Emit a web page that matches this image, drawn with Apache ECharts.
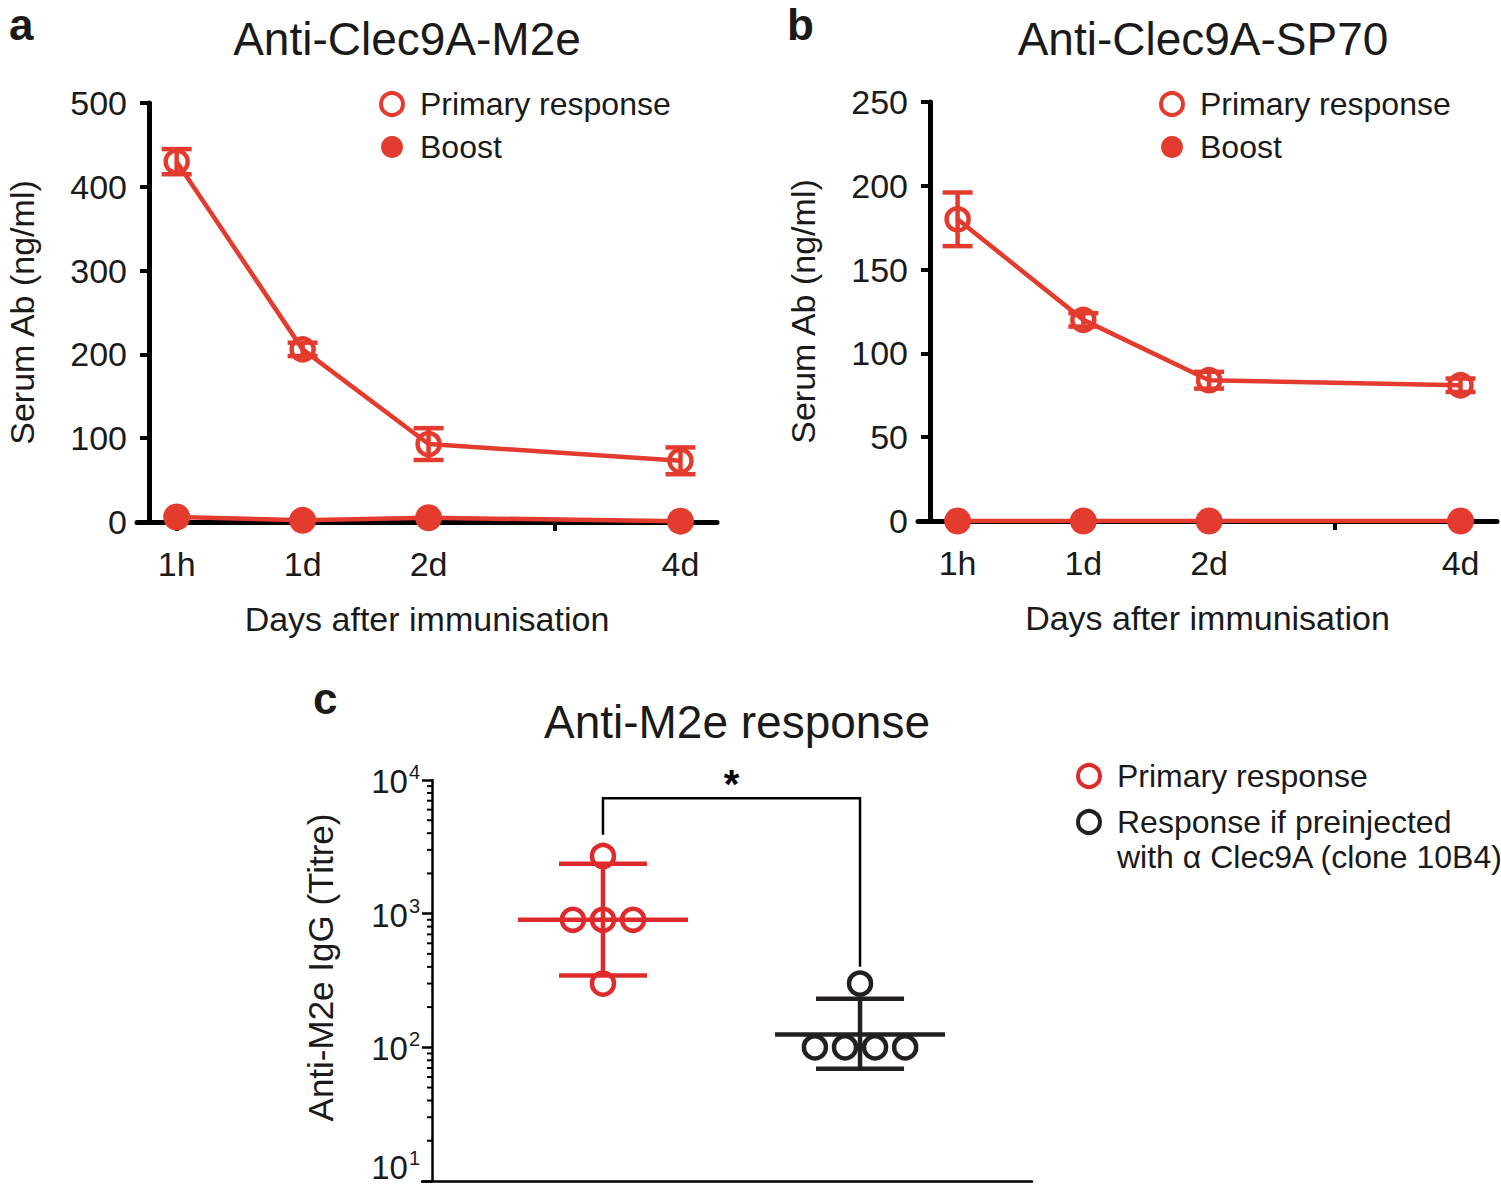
<!DOCTYPE html>
<html><head><meta charset="utf-8">
<script src="https://cdn.jsdelivr.net/npm/echarts@6/dist/echarts.min.js"></script>
<style>html,body{margin:0;padding:0;background:#fff}#c{width:1501px;height:1186px}</style>
</head><body><div id="c"></div>
<script>
// ---- data ----
const timeLabels = ['1h', '1d', '2d', '', '4d'];
const timePos = [0, 1, 2, 4];
const m2ePrimary = [430, 206, 93, 73];
const m2ePrimarySD = [15, 8, 19, 16];
const m2eBoost = [6, 2, 5, 1];
const sp70Primary = [180, 120, 84, 81];
const sp70PrimarySD = [16, 4, 5, 4];
const sp70Boost = [0, 0, 0, 0];
const titreGroups = ['Primary response', 'Response if preinjected\nwith \u03b1 Clec9A (clone 10B4)'];
const titrePrimary = [2700, 900, 900, 900, 300];
const titrePre = [300, 100, 100, 100, 100];
const titreMean = [900, 125];
const titreLow = [345, 69];
const titreHigh = [2360, 231];
const sigBracket = { label: '*', bar: 7300, leftEnd: 3900, rightEnd: 400 };

// ---- styles ----
const RED = '#e33b2e';
const RED_C = '#df2a2c';
const BLACK = '#231f20';
const TXT = '#1a1a1a';
const FONT = '"Liberation Sans", Arial, Helvetica, sans-serif';

function errRender(capHalf, color, width) {
  return function (params, api) {
    const x = api.value(0), m = api.value(1), s = api.value(2);
    const t = api.coord([x, m + s]), b = api.coord([x, m - s]);
    const st = { stroke: color, lineWidth: width };
    return { type: 'group', children: [
      { type: 'line', shape: { x1: t[0], y1: t[1], x2: b[0], y2: b[1] }, style: st },
      { type: 'line', shape: { x1: t[0] - capHalf, y1: t[1], x2: t[0] + capHalf, y2: t[1] }, style: st },
      { type: 'line', shape: { x1: b[0] - capHalf, y1: b[1], x2: b[0] + capHalf, y2: b[1] }, style: st }
    ]};
  };
}
function summaryRender(colors) {
  return function (params, api) {
    const g = api.value(0), m = api.value(1), lo = api.value(2), hi = api.value(3);
    const c = colors[params.dataIndex];
    const pm = api.coord([g, m]), pl = api.coord([g, lo]), ph = api.coord([g, hi]);
    const st = { stroke: c, lineWidth: 4.5 };
    return { type: 'group', children: [
      { type: 'line', shape: { x1: pm[0] - 85, y1: pm[1], x2: pm[0] + 85, y2: pm[1] }, style: st },
      { type: 'line', shape: { x1: ph[0], y1: ph[1], x2: pl[0], y2: pl[1] }, style: st },
      { type: 'line', shape: { x1: ph[0] - 44, y1: ph[1], x2: ph[0] + 44, y2: ph[1] }, style: st },
      { type: 'line', shape: { x1: pl[0] - 44, y1: pl[1], x2: pl[0] + 44, y2: pl[1] }, style: st }
    ]};
  };
}
function swarm(vals, group, step) {
  const counts = {}, seen = {};
  vals.forEach(v => counts[v] = (counts[v] || 0) + 1);
  return vals.map(v => {
    const n = counts[v];
    const i = seen[v] = (seen[v] || 0) + 1;
    return [group + (i - 1 - (n - 1) / 2) * step, v];
  });
}

const chart = echarts.init(document.getElementById('c'), null, { renderer: 'svg' });

const AXW = 5;
const timeAxis = (gi) => ({
  type: 'value', gridIndex: gi, min: -0.315, max: 4.29,
  name: 'Days after immunisation', nameLocation: 'middle', nameGap: 80,
  nameTextStyle: { fontSize: 34, color: TXT, fontFamily: FONT },
  axisLine: { lineStyle: { color: '#000', width: AXW } },
  axisTick: { customValues: timeLabels.map((_, i) => i), length: 9, lineStyle: { color: '#000', width: 4 } },
  axisLabel: { customValues: timeLabels.map((_, i) => i).filter(i => timeLabels[i] !== ''),
    formatter: v => timeLabels[v], fontSize: 34, color: TXT, fontFamily: FONT, margin: 25 },
  splitLine: { show: false }
});
const serumAxis = (gi, max, interval) => ({
  type: 'value', gridIndex: gi, min: 0, max: max, interval: interval, offset: -12,
  name: 'Serum Ab (ng/ml)', nameLocation: 'middle', nameGap: 110,
  nameTextStyle: { fontSize: 34, color: TXT, fontFamily: FONT },
  axisLine: { show: true, onZero: false, lineStyle: { color: '#000', width: AXW } },
  axisTick: { show: true, length: 9, lineStyle: { color: '#000', width: 4 } },
  axisLabel: { fontSize: 34, color: TXT, fontFamily: FONT, margin: 22 },
  splitLine: { show: false }
});

const primaryStyle = { color: 'rgba(255,255,255,0)', borderColor: RED, borderWidth: 4.5 };
const boostStyle = { color: RED, borderWidth: 0 };

const legendAB = (left) => ({
  left: left, top: 88, orient: 'vertical', padding: 0, itemWidth: 22, itemHeight: 22, itemGap: 11,
  textStyle: { fontSize: 32, lineHeight: 32, color: TXT, fontFamily: FONT, padding: [0, 0, 0, 12] },
  data: [
    { name: 'Primary response', icon: 'circle', itemStyle: { color: '#fff', borderColor: RED, borderWidth: 4 } },
    { name: 'Boost', icon: 'circle', itemStyle: { color: RED, borderWidth: 0 } }
  ]
});

const logRich = {
  b: { fontSize: 33, color: TXT, fontFamily: FONT, padding: [3, 0, 0, 0] },
  bm: { fontSize: 33, color: TXT, fontFamily: FONT, padding: [3, 0, 30, 0] },
  s: { fontSize: 20, color: TXT, fontFamily: FONT, verticalAlign: 'top', padding: [0, 0, 0, 1] }
};

const option = {
  animation: false,
  backgroundColor: '#fff',
  textStyle: { fontFamily: FONT },
  title: [
    { text: 'a', left: 4, top: -3, textStyle: { fontSize: 44, fontWeight: 'bold', color: TXT, fontFamily: FONT } },
    { text: 'b', left: 782, top: -3, textStyle: { fontSize: 44, fontWeight: 'bold', color: TXT, fontFamily: FONT } },
    { text: 'c', left: 308, top: 671, textStyle: { fontSize: 44, fontWeight: 'bold', color: TXT, fontFamily: FONT } },
    { text: 'Anti-Clec9A-M2e', left: 402, textAlign: 'center', top: 11, textStyle: { fontSize: 46, fontWeight: 'normal', color: TXT, fontFamily: FONT } },
    { text: 'Anti-Clec9A-SP70', left: 1198, textAlign: 'center', top: 11, textStyle: { fontSize: 46, fontWeight: 'normal', color: TXT, fontFamily: FONT } },
    { text: 'Anti-M2e response', left: 732, textAlign: 'center', top: 694, textStyle: { fontSize: 46, fontWeight: 'normal', color: TXT, fontFamily: FONT } }
  ],
  legend: [
    legendAB(379),
    legendAB(1159),
    { left: 1076, top: 758.5, orient: 'vertical', padding: 0, itemWidth: 22, itemHeight: 22,
      textStyle: { fontSize: 32, lineHeight: 35, color: TXT, fontFamily: FONT, padding: [0, 0, 0, 12] },
      data: [{ name: titreGroups[0], icon: 'circle', itemStyle: { color: '#fff', borderColor: RED_C, borderWidth: 4 } }] },
    { left: 1076, top: 769.5, orient: 'vertical', padding: 0, itemWidth: 22, itemHeight: 22,
      formatter: name => '\n' + name,
      textStyle: { fontSize: 32, lineHeight: 35, color: TXT, fontFamily: FONT, padding: [0, 0, 0, 12] },
      data: [{ name: titreGroups[1], icon: 'circle', itemStyle: { color: '#fff', borderColor: BLACK, borderWidth: 4 } }] }
  ],
  grid: [
    { left: 137, top: 103, width: 580, height: 419 },
    { left: 918, top: 102, width: 579, height: 419 },
    { left: 422, top: 780, width: 610, height: 401 }
  ],
  xAxis: [
    timeAxis(0),
    timeAxis(1),
    { type: 'value', gridIndex: 2, min: 0.296, max: 2.669,
      axisLine: { show: true, lineStyle: { color: '#000', width: 2.5 } },
      axisTick: { show: false }, axisLabel: { show: false }, splitLine: { show: false } }
  ],
  yAxis: [
    serumAxis(0, 500, 100),
    serumAxis(1, 250, 50),
    { type: 'log', logBase: 10, gridIndex: 2, min: 10, max: 10000, offset: -10,
      name: 'Anti-M2e IgG (Titre)', nameLocation: 'middle', nameGap: 94,
      nameTextStyle: { fontSize: 35, color: TXT, fontFamily: FONT, padding: [0, 0, 0, 26] },
      axisLine: { show: true, onZero: false, lineStyle: { color: '#000', width: 2.5 } },
      axisTick: { show: true, length: 10, lineStyle: { color: '#000', width: 2.5 } },
      axisLabel: { margin: 12, color: TXT, fontFamily: FONT,
        formatter: v => { const e = Math.round(Math.log10(v)); return '{' + (e === 1 ? 'bm' : 'b') + '|10}{s|' + e + '}'; },
        rich: logRich },
      splitLine: { show: false } }
  ],
  series: [
    // panel a
    { name: 'Primary response', type: 'line', xAxisIndex: 0, yAxisIndex: 0,
      data: timePos.map((x, i) => [x, m2ePrimary[i]]), symbol: 'circle', symbolSize: 22,
      itemStyle: primaryStyle, lineStyle: { color: RED, width: 4.5 }, z: 3 },
    { name: 'Primary response', type: 'custom', xAxisIndex: 0, yAxisIndex: 0, clip: false,
      renderItem: errRender(15, RED, 4.5), encode: { x: 0, y: 1 },
      data: timePos.map((x, i) => [x, m2ePrimary[i], m2ePrimarySD[i]]), z: 4 },
    { name: 'Boost', type: 'line', xAxisIndex: 0, yAxisIndex: 0,
      data: timePos.map((x, i) => [x, m2eBoost[i]]), symbol: 'circle', symbolSize: 27,
      itemStyle: boostStyle, lineStyle: { color: RED, width: 4.5 }, z: 3 },
    // panel b
    { name: 'Primary response', type: 'line', xAxisIndex: 1, yAxisIndex: 1,
      data: timePos.map((x, i) => [x, sp70Primary[i]]), symbol: 'circle', symbolSize: 22,
      itemStyle: primaryStyle, lineStyle: { color: RED, width: 4.5 }, z: 3 },
    { name: 'Primary response', type: 'custom', xAxisIndex: 1, yAxisIndex: 1, clip: false,
      renderItem: errRender(15, RED, 4.5), encode: { x: 0, y: 1 },
      data: timePos.map((x, i) => [x, sp70Primary[i], sp70PrimarySD[i]]), z: 4 },
    { name: 'Boost', type: 'line', xAxisIndex: 1, yAxisIndex: 1,
      data: timePos.map((x, i) => [x, sp70Boost[i]]), symbol: 'circle', symbolSize: 27,
      itemStyle: boostStyle, lineStyle: { color: RED, width: 4.5 }, z: 3 },
    // panel c
    { name: titreGroups[0], type: 'scatter', xAxisIndex: 2, yAxisIndex: 2,
      data: swarm(titrePrimary, 1, 0.117), symbol: 'circle', symbolSize: 22,
      itemStyle: { color: 'rgba(255,255,255,0)', borderColor: RED_C, borderWidth: 4.5, opacity: 1 }, z: 3 },
    { name: titreGroups[1], type: 'scatter', xAxisIndex: 2, yAxisIndex: 2,
      data: swarm(titrePre, 2, 0.117), symbol: 'circle', symbolSize: 22,
      itemStyle: { color: 'rgba(255,255,255,0)', borderColor: BLACK, borderWidth: 4.5, opacity: 1 }, z: 3 },
    { type: 'custom', xAxisIndex: 2, yAxisIndex: 2, clip: false, z: 4,
      renderItem: summaryRender([RED_C, BLACK]), encode: { x: 0, y: 1 },
      data: titreMean.map((m, i) => [i + 1, m, titreLow[i], titreHigh[i]]) },
    // minor log ticks
    { type: 'custom', xAxisIndex: 2, yAxisIndex: 2, clip: false, silent: true, z: 5,
      renderItem: function (params, api) {
        const d = api.value(1);
        const x0 = api.coord([0.296, d])[0] + 10;
        const ch = [];
        for (let k = 2; k <= 9; k++) {
          const p = api.coord([0.296, d * k]);
          ch.push({ type: 'line', shape: { x1: x0 - 5, y1: p[1], x2: x0, y2: p[1] }, style: { stroke: '#000', lineWidth: 2 } });
        }
        return { type: 'group', children: ch };
      },
      encode: { x: 0, y: 1 }, data: [[0.296, 10], [0.296, 100], [0.296, 1000]] },
    // significance bracket
    { type: 'custom', xAxisIndex: 2, yAxisIndex: 2, clip: false, silent: true, z: 5,
      renderItem: function (params, api) {
        const a = api.coord([1, sigBracket.leftEnd]), a2 = api.coord([1, sigBracket.bar]);
        const b2 = api.coord([2, sigBracket.bar]), b = api.coord([2, sigBracket.rightEnd]);
        return { type: 'group', children: [
          { type: 'polyline', shape: { points: [a, a2, b2, b] }, style: { stroke: '#000', lineWidth: 2.5, fill: null } },
          { type: 'text', x: (a2[0] + b2[0]) / 2, y: a2[1] + 6, style: { text: sigBracket.label, fontSize: 40, fontWeight: 'bold', fill: '#000', fontFamily: FONT, align: 'center', verticalAlign: 'bottom' } }
        ]};
      },
      encode: { x: 0, y: 1 }, data: [[1.5, sigBracket.bar]] }
  ]
};
chart.setOption(option);
</script>
</body></html>
